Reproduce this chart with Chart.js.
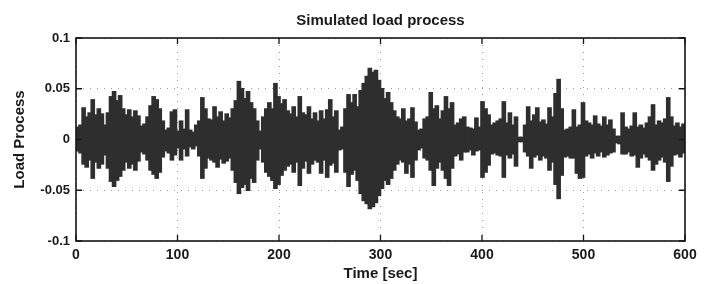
<!DOCTYPE html>
<html>
<head>
<meta charset="utf-8">
<script src="https://cdn.jsdelivr.net/npm/chart.js@4.4.0/dist/chart.umd.min.js"></script>
<style>
  html, body { margin: 0; padding: 0; background: #fff; }
  canvas { display: block; }
</style>
</head>
<body>
<canvas id="chart" width="705" height="284"></canvas>
<script>
// envelope of the simulated load in 3 s bins (units of 0.001)
var bin_width = 3
var upper = [12, 14, 31, 22, 26, 39, 24, 30, 25, 14,
             26, 42, 47, 38, 43, 30,
             24, 29, 22, 28, 23,
             13, 15,
             22, 33, 42, 39, 30, 18,
             9, 11, 27, 29,
             8, 18, 10, 29, 9, 7, 14,
             18, 41, 30,
             20, 19, 32, 22, 27, 18, 25, 21,
             30, 38, 57, 50, 40, 47, 36, 30, 18,
             8,
             22, 30, 36, 30, 55, 42, 35, 39, 28,
             25, 32, 22, 42, 26, 24, 32, 20, 26,
             18, 28, 20, 29, 39, 22, 28,
             9, 12, 30, 44,
             36, 44, 32, 48, 55, 62, 70, 66, 68, 58, 50, 40,
             46, 36, 28, 22, 20, 30, 18, 20, 31, 17, 9, 10, 20, 22, 46, 30, 33, 20, 28, 42, 30, 36,
             14, 16, 20, 22, 12, 11, 10, 21, 12,
             37, 30, 24,
             14, 16, 18, 20, 37, 16, 26, 14, 22,
             2, 2, 14,
             32, 18, 24, 31, 17, 19, 15, 31, 22,
             45, 59, 30,
             9, 10, 12, 29, 12, 14,
             36, 18, 16, 14, 23, 15, 13, 22, 14, 19, 10,
             3, 3, 26,
             12, 10, 13, 26, 12, 14, 11, 16, 22, 34, 14, 18, 16, 20, 41, 22, 13, 16, 12, 15]
var lower = [-11, -13, -24, -27, -20, -38, -22, -28, -24, -15,
             -28, -41, -46, -40, -36, -30,
             -22, -28, -24, -30, -21,
             -12, -14,
             -20, -30, -34, -38, -32, -17,
             -11, -13, -20, -15,
             -8, -20, -9, -16, -7, -9, -6,
             -16, -38, -28,
             -18, -20, -22, -27, -19, -23, -21, -18,
             -30, -42, -53, -47, -44, -50, -38, -42, -20,
             -9,
             -22, -32, -36, -40, -48, -44, -35, -30, -26,
             -24, -32, -22, -45, -28, -21, -33, -24, -20,
             -22, -33, -20, -37, -25, -23, -32,
             -10, -9, -32, -46,
             -34, -30, -40, -53, -60, -63, -68, -66, -62, -55, -48, -40,
             -44, -38, -30, -24, -20, -22, -33, -24, -37, -20, -10, -8, -18, -20, -30, -45, -28, -22, -30, -38, -45, -28,
             -16, -14, -20, -12, -12, -10, -15, -11, -10,
             -37, -32, -25,
             -14, -13, -15, -16, -37, -15, -18, -14, -26,
             -2, -2, -12,
             -16, -28, -17, -15, -20, -16, -18, -30, -22,
             -44, -58, -35,
             -17, -16, -18, -18, -33, -38,
             -37, -16, -14, -18, -13, -16, -12, -17, -15, -13, -12,
             -3, -4, -14,
             -14, -12, -16, -15, -27, -18, -14, -17, -20, -30, -24, -20, -17, -22, -41, -26, -15, -14, -17, -13]

var x_ticks = [0, 100, 200, 300, 400, 500, 600]
var x_tick_labels = ['0', '100', '200', '300', '400', '500', '600']
var y_ticks = [-0.1, -0.05, 0, 0.05, 0.1]
var y_tick_labels = ['-0.1', '-0.05', '0', '0.05', '0.1']

var bars = []
for (let i in upper) {
  bars.push({x: bin_width * i + bin_width / 2, y: [lower[i] / 1000, upper[i] / 1000]})
}

var text_font = 'Liberation Sans, Arial, Helvetica, sans-serif'

// matlab style box with inward tick marks
var frame_plugin = {
  id: 'frame',
  afterDatasetsDraw(chart) {
    var ctx = chart.ctx
    var a = chart.chartArea
    var xs = chart.scales.x
    var ys = chart.scales.y
    ctx.save()
    ctx.strokeStyle = '#151515'
    ctx.lineWidth = 1.6
    ctx.strokeRect(a.left, a.top, a.right - a.left, a.bottom - a.top)
    ctx.lineWidth = 1.3
    ctx.beginPath()
    for (let v of x_ticks) {
      var px = xs.getPixelForValue(v)
      ctx.moveTo(px, a.bottom); ctx.lineTo(px, a.bottom - 6)
      ctx.moveTo(px, a.top); ctx.lineTo(px, a.top + 6)
    }
    for (let v of y_ticks) {
      var py = ys.getPixelForValue(v)
      ctx.moveTo(a.left, py); ctx.lineTo(a.left + 6, py)
      ctx.moveTo(a.right, py); ctx.lineTo(a.right - 6, py)
    }
    ctx.stroke()
    ctx.restore()
  }
}

new Chart(document.getElementById('chart'), {
  type: 'bar',
  data: {
    datasets: [{
      label: 'Load process',
      data: bars,
      backgroundColor: '#2e2e2e',
      borderWidth: 0,
      inflateAmount: 0.8,
      barPercentage: 1,
      categoryPercentage: 1
    }]
  },
  options: {
    responsive: false,
    animation: false,
    devicePixelRatio: 1,
    layout: {padding: {top: 0, right: 20, bottom: 0, left: 0}},
    plugins: {
      legend: {display: false},
      tooltip: {enabled: false},
      title: {
        display: true,
        fullSize: false,
        text: 'Simulated load process',
        color: '#1a1a1a',
        font: {family: text_font, size: 15, weight: 'bold'},
        padding: {top: 12, bottom: 8}
      }
    },
    scales: {
      x: {
        type: 'linear',
        min: 0,
        max: 600,
        offset: false,
        grid: {offset: false, color: '#9a9a9a', drawTicks: false},
        border: {display: false, dash: [1, 6]},
        afterBuildTicks: function(scale) { scale.ticks = x_ticks.map(v => ({value: v})) },
        afterFit: function(scale) { scale.height = 43 },
        ticks: {
          color: '#1a1a1a',
          padding: 6,
          maxRotation: 0,
          font: {family: text_font, size: 14, weight: 'bold'},
          callback: function(value) { return x_tick_labels[x_ticks.indexOf(value)] }
        },
        title: {
          display: true,
          text: 'Time [sec]',
          color: '#1a1a1a',
          font: {family: text_font, size: 15, weight: 'bold'},
          padding: {top: 0, bottom: 1}
        }
      },
      y: {
        min: -0.1,
        max: 0.1,
        grid: {color: '#9a9a9a', drawTicks: false},
        border: {display: false, dash: [1, 6]},
        afterBuildTicks: function(scale) { scale.ticks = y_ticks.map(v => ({value: v})) },
        afterFit: function(scale) { scale.width = 76 },
        ticks: {
          color: '#1a1a1a',
          padding: 6,
          font: {family: text_font, size: 13, weight: 'bold'},
          callback: function(value) { return y_tick_labels[y_ticks.indexOf(value)] }
        },
        title: {
          display: true,
          text: 'Load Process',
          color: '#1a1a1a',
          font: {family: text_font, size: 15, weight: 'bold'},
          padding: {top: 11, bottom: 0}
        }
      }
    }
  },
  plugins: [frame_plugin]
})
</script>
</body>
</html>
